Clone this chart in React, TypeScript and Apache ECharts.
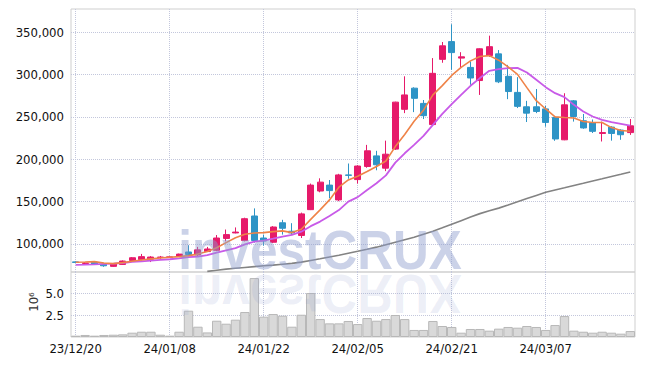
import React, { useEffect, useRef } from 'react';
import * as echarts from 'echarts';

const dates = [
  '23/12/20', '23/12/21', '23/12/22', '23/12/26', '23/12/27', '23/12/28', '24/01/02', '24/01/03', '24/01/04', '24/01/05',
  '24/01/08', '24/01/09', '24/01/10', '24/01/11', '24/01/12', '24/01/15', '24/01/16', '24/01/17', '24/01/18', '24/01/19',
  '24/01/22', '24/01/23', '24/01/24', '24/01/25', '24/01/26', '24/01/29', '24/01/30', '24/01/31', '24/02/01', '24/02/02',
  '24/02/05', '24/02/06', '24/02/07', '24/02/08', '24/02/13', '24/02/14', '24/02/15', '24/02/16', '24/02/19', '24/02/20',
  '24/02/21', '24/02/22', '24/02/23', '24/02/26', '24/02/27', '24/02/28', '24/02/29', '24/03/04', '24/03/05', '24/03/06',
  '24/03/07', '24/03/08', '24/03/11', '24/03/12', '24/03/13', '24/03/14', '24/03/15', '24/03/18', '24/03/19', '24/03/20',
];

const opens = [
  78800, 77000, 78300, 76000, 73500, 75800, 80500, 81500, 82000, 84000,
  84300, 85200, 90500, 87000, 91000, 92500, 106500, 113000, 104000, 133000,
  107000, 102000, 125000, 115000, 110000, 140500, 162500, 169500, 152000, 181500,
  176000, 191500, 204000, 189500, 212000, 259000, 284000, 266000, 241000, 318000,
  339000, 319500, 308500, 293000, 322500, 324500, 298000, 279000, 262000, 262000,
  259500, 249500, 223000, 269000, 245500, 243000, 230500, 238000, 234500, 231500,
];
const closes = [
  78200, 77400, 76300, 74200, 76500, 79800, 83700, 85000, 84500, 84500,
  84700, 88000, 87500, 93000, 94000, 107000, 111000, 114000, 129800, 104000,
  103500, 120000, 118500, 113000, 135500, 169500, 173000, 163000, 181500, 181000,
  192000, 210000, 193500, 206000, 267500, 276000, 272000, 251500, 301500, 334000,
  326000, 321000, 296000, 330500, 333000, 291500, 280000, 262500, 254500, 256500,
  243500, 224000, 264300, 250500, 237000, 233000, 231500, 230500, 229000, 239500,
];
const lows = [
  77800, 75500, 75800, 73000, 73000, 75500, 80000, 80500, 78600, 82500,
  83800, 85000, 86500, 86000, 90500, 91500, 103000, 112500, 103000, 101500,
  98000, 101000, 111000, 110500, 107000, 140000, 161000, 154000, 150500, 177000,
  171300, 190000, 187000, 186000, 211000, 254500, 255700, 247500, 240000, 314000,
  305700, 307700, 288000, 276000, 321000, 290000, 271000, 260500, 244000, 254500,
  238500, 221800, 222500, 244500, 236000, 231000, 221000, 222000, 223000, 228800,
];
const highs = [
  79200, 78500, 79000, 76500, 77000, 80500, 84500, 88200, 85600, 85800,
  85200, 88500, 98500, 96500, 96500, 110500, 117000, 119500, 131000, 142000,
  111000, 121000, 128500, 124500, 137000, 171300, 177500, 175500, 182800, 195000,
  193000, 217000, 210000, 222000, 268000, 298000, 285000, 270000, 319500, 338500,
  359500, 326500, 315500, 331000, 346000, 329000, 311500, 297000, 269000, 283000,
  263000, 250500, 278000, 270000, 253500, 247000, 244500, 239000, 235500, 247500,
];

const ma5 = [
  78400, 78700, 79100, 77500, 76700, 77900, 79500, 81100, 82300, 83400,
  84300, 85000, 86200, 88000, 91000, 95500, 101500, 107400, 111400, 113000,
  113400, 114500, 115400, 113400, 117400, 129000, 140200, 152000, 167000, 175600,
  180000, 185500, 191400, 198000, 215000, 229200, 245000, 258000, 276000, 287000,
  299000, 308500, 316200, 321400, 322400, 317000, 309200, 300300, 284600, 269200,
  259400, 250100, 249300, 248700, 244600, 243400, 243400, 237400, 233900, 233100,
];
const ma10 = [
  75200, 75500, 75900, 76400, 76700, 77500, 78700, 79500, 80300, 81100,
  81900, 83000, 84300, 85000, 86800, 89800, 92500, 95000, 99500, 102700,
  104000, 106300, 108700, 110600, 114500, 121000, 126400, 133100, 140000, 150000,
  155300, 163800, 171700, 181000, 196000, 207100, 217000, 227600, 240700, 253700,
  265100, 276100, 286800, 295900, 304500, 306500, 307700, 308000, 302500, 293900,
  285200, 278100, 273400, 264300, 256400, 250500, 246600, 243800, 241800, 239800,
];
const ma60 = [
  null, null, null, null, null, null, null, null, null, null,
  null, null, null, null, 67600, 69000, 70200, 71200, 72200, 73200,
  74200, 75000, 76000, 77000, 78500, 80500, 82500, 84600, 86700, 89000,
  91300, 93700, 96200, 99000, 102000, 105000, 108000, 111500, 115000, 119000,
  123200, 127500, 131800, 135800, 139200, 142300, 146000, 149800, 153600, 157300,
  161000, 163700, 166300, 169000, 171600, 174300, 176900, 179600, 182200, 184900,
];

// volume in millions of shares
const volumeM = [
  0.15, 0.23, 0.15, 0.23, 0.26, 0.3, 0.49, 0.6, 0.6, 0.26,
  0.15, 0.6, 2.99, 1.17, 0.52, 1.85, 1.51, 1.97, 2.84, 6.7,
  2.31, 2.61, 2.42, 1.17, 2.53, 5.0, 2.04, 1.55, 1.55, 1.82,
  1.47, 2.16, 1.85, 2.04, 2.5, 2.04, 0.8, 0.8, 1.82, 1.25,
  1.14, 0.49, 0.91, 0.91, 0.72, 0.95, 1.14, 1.06, 1.25, 1.14,
  0.8, 1.36, 2.38, 0.72, 0.6, 0.49, 0.6, 0.49, 0.38, 0.68,
];

const FONT = '"DejaVu Sans Condensed", "DejaVu Sans", sans-serif';
const GRID_LINE = { type: 'dotted' as const, color: '#c3c7dc', width: 1 };

export default function App() {
  const ref = useRef<HTMLDivElement>(null);

  useEffect(() => {
    if (!ref.current) return;
    const chart = echarts.init(ref.current, undefined, { renderer: 'svg' });
    const candles = dates.map((_, i) => [opens[i], closes[i], lows[i], highs[i]]);
    const n = dates.length;

    const label = { fontFamily: FONT, fontSize: 13, color: '#111' };

    // hidden value axes used only to draw vertical grid lines at category centres
    const gridLineAxis = (gridIndex: number) => ({
      type: 'value', gridIndex, min: -0.5, max: n - 0.5, splitNumber: 6,
      axisLine: { show: false }, axisTick: { show: false }, axisLabel: { show: false },
      splitLine: { show: true, showMinLine: false, showMaxLine: false, lineStyle: GRID_LINE },
    });

    chart.setOption({
      animation: false,
      grid: [
        { left: 71, right: 10, top: 9, height: 263, show: true, borderColor: '#cfcfcf', borderWidth: 1 },
        { left: 71, right: 10, top: 272, height: 65, show: true, borderColor: '#cfcfcf', borderWidth: 1 },
      ],
      xAxis: [
        {
          type: 'category', data: dates, gridIndex: 0, boundaryGap: true,
          axisLine: { show: false }, axisTick: { show: false }, axisLabel: { show: false },
          splitLine: { show: false },
        },
        {
          type: 'category', data: dates, gridIndex: 1, boundaryGap: true,
          axisLine: { show: false }, axisTick: { show: false },
          axisLabel: { ...label, interval: 9, margin: 5 },
          splitLine: { show: false },
        },
        gridLineAxis(0),
        gridLineAxis(1),
      ],
      yAxis: [
        {
          type: 'value', gridIndex: 0, min: 66850, max: 377500, splitNumber: 5,
          axisLine: { show: false }, axisTick: { show: false },
          axisLabel: {
            ...label, margin: 7, showMinLabel: false, showMaxLabel: false,
            formatter: (v: number) => v.toLocaleString('en-US'),
          },
          splitLine: { show: true, showMinLine: false, showMaxLine: false, lineStyle: GRID_LINE },
        },
        {
          type: 'value', gridIndex: 1, min: 0, max: 7.39, interval: 2.5,
          axisLine: { show: false }, axisTick: { show: false },
          axisLabel: {
            ...label, margin: 7, showMinLabel: false, showMaxLabel: false,
            formatter: (v: number) => v.toFixed(1),
          },
          splitLine: { show: true, showMinLine: false, showMaxLine: false, lineStyle: GRID_LINE },
        },
      ],
      series: [
        {
          type: 'candlestick', name: 'Price', xAxisIndex: 0, yAxisIndex: 0, data: candles,
          barWidth: '70%',
          itemStyle: {
            color: '#e61a6a', color0: '#2e94c6', borderColor: '#e61a6a', borderColor0: '#2e94c6', borderWidth: 1,
          },
          z: 3,
        },
        {
          type: 'line', name: 'MA60', xAxisIndex: 0, yAxisIndex: 0, data: ma60, symbol: 'none',
          lineStyle: { color: '#838383', width: 1.6 }, z: 4,
        },
        {
          type: 'line', name: 'MA10', xAxisIndex: 0, yAxisIndex: 0, data: ma10, symbol: 'none',
          lineStyle: { color: '#c85ae8', width: 1.8 }, z: 4,
        },
        {
          type: 'line', name: 'MA5', xAxisIndex: 0, yAxisIndex: 0, data: ma5, symbol: 'none',
          lineStyle: { color: '#ef8348', width: 1.6 }, z: 5,
        },
        {
          type: 'bar', name: 'Volume', xAxisIndex: 1, yAxisIndex: 1, data: volumeM,
          barCategoryGap: '0%',
          itemStyle: { color: '#d9d9d9', borderColor: '#b8b8b8', borderWidth: 1 },
        },
      ],
      graphic: [
        {
          type: 'text', x: 320, y: 278, scaleX: 0.9, z: 100, silent: true,
          style: {
            text: 'investCRUX', font: 'bold 55px "Liberation Sans", Arial, sans-serif',
            fill: 'rgba(140,155,205,0.45)', textAlign: 'center', textVerticalAlign: 'bottom',
          },
        },
        {
          type: 'text', x: 320, y: 266, scaleX: 0.9, scaleY: -1, z: 100, silent: true,
          style: {
            text: 'investCRUX', font: 'bold 55px "Liberation Sans", Arial, sans-serif',
            fill: 'rgba(140,155,205,0.16)', textAlign: 'center', textVerticalAlign: 'bottom',
          },
        },
        {
          type: 'text', x: 33, y: 302, rotation: Math.PI / 2, silent: true,
          style: {
            text: '10⁶', font: '13px ' + FONT, fill: '#333',
            textAlign: 'center', textVerticalAlign: 'middle',
          },
        },
      ],
    });

    return () => chart.dispose();
  }, []);

  return <div ref={ref} style={{ position: 'absolute', left: 0, top: 0, width: 645, height: 366 }} />;
}
